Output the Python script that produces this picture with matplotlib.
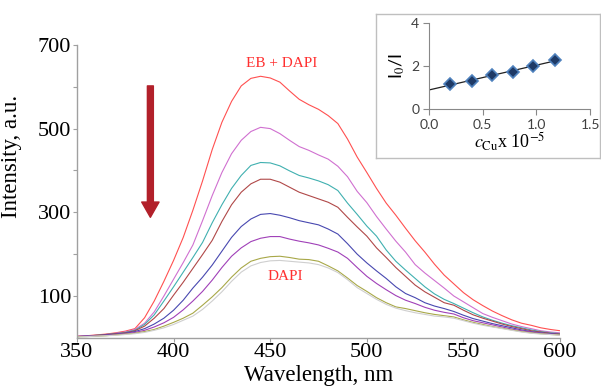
import numpy as np
import matplotlib
matplotlib.use("Agg")
import matplotlib.pyplot as plt

plt.rcParams['font.family'] = ['Liberation Serif', 'DejaVu Serif']
plt.rcParams['mathtext.fontset'] = 'stix'

# emission spectra, read every 5 nm
wavelength = np.arange(350, 601, 5)

eb_dapi = [4, 5, 7, 9, 12, 16, 22, 48, 88, 135, 185, 240, 305, 375, 450, 515, 565, 602, 620, 625,
           621, 611, 590, 570, 557, 546, 531, 512, 475, 432, 395, 357, 322, 293, 262, 232, 205, 176, 150, 129,
           108, 91, 77, 64, 53, 43, 35, 30, 24, 20, 17]
cu_1 = [4, 5, 6, 8, 11, 14, 20, 35, 62, 100, 140, 180, 222, 280, 340, 395, 440, 472, 493, 503,
        500, 488, 472, 457, 448, 437, 427, 410, 385, 350, 323, 290, 260, 231, 205, 175, 155, 137, 119, 100,
        86, 72, 58, 49, 41, 33, 27, 22, 17, 14, 12]
cu_2 = [3, 4, 6, 8, 10, 13, 18, 32, 55, 88, 122, 157, 192, 228, 275, 318, 357, 388, 412, 419,
        418, 411, 399, 388, 382, 375, 366, 352, 322, 295, 267, 243, 210, 183, 162, 142, 122, 105, 92, 82,
        71, 60, 50, 42, 35, 29, 24, 19, 15, 12, 10]
cu_3 = [3, 4, 6, 8, 10, 12, 17, 28, 47, 70, 102, 133, 166, 199, 233, 278, 318, 348, 368, 379,
        379, 372, 360, 348, 340, 332, 324, 312, 288, 265, 243, 215, 192, 168, 147, 126, 110, 97, 84, 78,
        66, 55, 47, 40, 33, 27, 22, 17, 14, 11, 9]
cu_4 = [3, 4, 5, 7, 9, 11, 15, 22, 33, 47, 66, 90, 119, 145, 174, 207, 240, 266, 284, 295,
        297, 293, 287, 280, 275, 270, 260, 248, 225, 200, 179, 160, 142, 122, 106, 96, 84, 76, 70, 63,
        54, 46, 40, 34, 29, 24, 19, 15, 12, 10, 8]
cu_5 = [3, 4, 5, 6, 8, 10, 13, 18, 26, 36, 49, 67, 88, 111, 138, 168, 195, 215, 230, 238,
        242, 242, 236, 231, 227, 222, 214, 205, 190, 168, 147, 130, 115, 101, 90, 82, 73, 66, 61, 57,
        48, 41, 36, 31, 26, 21, 17, 14, 11, 9, 7]
cu_6 = [3, 3, 4, 5, 7, 9, 11, 15, 20, 28, 37, 47, 59, 78, 98, 120, 145, 167, 183, 190,
        194, 195, 192, 188, 187, 183, 172, 160, 143, 125, 111, 96, 84, 74, 70, 65, 60, 56, 53, 50,
        43, 37, 32, 27, 23, 19, 15, 12, 10, 8, 7]
dapi = [2, 3, 4, 5, 6, 8, 10, 13, 18, 24, 32, 42, 52, 68, 88, 110, 135, 157, 172, 180,
        184, 185, 183, 181, 179, 175, 167, 156, 139, 120, 106, 92, 80, 71, 65, 60, 56, 52, 50, 47,
        41, 35, 30, 26, 22, 18, 14, 11, 9, 8, 6]

spectra = [eb_dapi, cu_1, cu_2, cu_3, cu_4, cu_5, cu_6, dapi]
colors = ['#FF5050', '#D070D0', '#40B0B0', '#B04848', '#4848B0', '#A040B8', '#A8A848', '#CFCFCF']

# Stern-Volmer inset
c_cu = [0.193, 0.396, 0.59, 0.785, 0.97, 1.168]
i0_i = [1.17, 1.32, 1.56, 1.71, 1.99, 2.30]

fig = plt.figure(figsize=(6.01, 3.87), dpi=100)
ax = fig.add_axes([0.128, 0.127, 0.804, 0.757])

for y, c in zip(spectra, colors):
    ax.plot(wavelength, y, color=c, lw=0.8)

ax.set_xlim(350, 600)
ax.set_ylim(0, 700)
ax.set_xticks([350, 400, 450, 500, 550, 600])
ax.set_yticks([100, 200, 300, 400, 500, 600, 700])
ax.set_yticklabels(['100', '', '300', '', '500', '', '700'])
for s in ['top', 'right']:
    ax.spines[s].set_visible(False)
for s in ['left', 'bottom']:
    ax.spines[s].set_color('#A0A0A0')
    ax.spines[s].set_linewidth(1.0)
ax.tick_params(axis='both', direction='out', length=3, color='#A0A0A0', labelsize=16, pad=1)
ax.set_xlabel('Wavelength, nm', fontsize=16.5, labelpad=2)
ax.set_ylabel('Intensity, a.u.', fontsize=16.5)
ax.yaxis.set_label_coords(-0.113, 0.62)

ax.text(456, 655, 'EB + DAPI', color='#FF3030', fontsize=11, ha='center', va='center')
ax.text(458, 146, 'DAPI', color='#FF3030', fontsize=11, ha='center', va='center')

ax.annotate('', xy=(388, 288), xytext=(388, 602),
            arrowprops=dict(width=4.3, headwidth=12.5, headlength=11, color='#B2202A', shrink=0))

# inset frame
frame = fig.add_axes([0.626, 0.592, 0.372, 0.373])
frame.set_xticks([])
frame.set_yticks([])
for s in frame.spines.values():
    s.set_color('#BFBFBF')
    s.set_linewidth(1.0)

ins = fig.add_axes([0.714, 0.718, 0.268, 0.223])
ins.patch.set_alpha(0)
slope, intercept = np.polyfit(c_cu, i0_i, 1)
xfit = np.array([0, max(c_cu)])
ins.plot(xfit, slope * xfit + intercept, color='#202020', lw=0.9)
ins.plot(c_cu, i0_i, 'D', ms=6, mfc='#1F3A66', mec='#4F81BD', mew=1.2)
ins.set_xlim(0, 1.5)
ins.set_ylim(0, 4)
ins.set_xticks([0, 0.5, 1.0, 1.5])
ins.set_xticklabels(['0.0', '0.5', '1.0', '1.5'])
ins.set_yticks([0, 2, 4])
for s in ['top', 'right']:
    ins.spines[s].set_visible(False)
for s in ['left', 'bottom']:
    ins.spines[s].set_color('#888888')
for lab in ins.get_xticklabels() + ins.get_yticklabels():
    lab.set_family('Lato')
    lab.set_color('#404040')
ins.tick_params(axis='both', direction='out', length=4, color='#888888', labelsize=10, pad=3)
ins.set_ylabel(r'I$_0$/I', fontsize=13, labelpad=3, family='Lato')
ins.set_xlabel(r'$c_{\mathrm{Cu}}$x 10$^{-5}$', fontsize=13, labelpad=0)

fig.savefig('out.png', dpi=100)
